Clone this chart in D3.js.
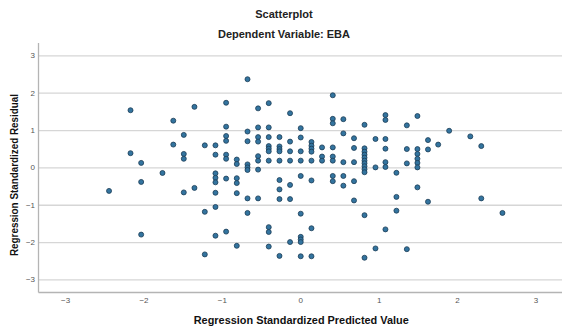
<!DOCTYPE html>
<html>
<head>
<meta charset="utf-8">
<script src="https://cdn.jsdelivr.net/npm/d3@7"></script>
<style>
  body { margin: 0; background: #fff; }
  text { font-family: "Liberation Sans", Arial, sans-serif; }
  .chartTitle { font-size: 11px; font-weight: bold; fill: #222; }
  .axisTitle { font-size: 11px; font-weight: bold; fill: #111; }
  .tickLabel text { font-size: 8px; fill: #555; }
  .grid line { stroke: #d6d6d6; stroke-width: 1.3; }
  .axisLine { stroke: #b4b4b4; stroke-width: 1.3; }
  .dot { fill: #33749f; stroke: #1c3c55; stroke-width: 0.8; }
</style>
</head>
<body>
<div id="scatter"></div>
<script>
// regression standardized predicted value (x) for each case
var predicted = [
  -2.44,
  -2.166, -2.166,
  -2.03, -2.03, -2.03,
  -1.758,
  -1.62, -1.62,
  -1.486, -1.486, -1.486, -1.486,
  -1.35, -1.35,
  -1.218, -1.218, -1.218,
  -1.082, -1.082, -1.082, -1.082, -1.082, -1.082, -1.082, -1.082,
  -0.946, -0.946, -0.946, -0.946, -0.946, -0.946, -0.946, -0.946,
  -0.81, -0.81, -0.81, -0.81, -0.81, -0.81,
  -0.673, -0.673, -0.673, -0.673, -0.673, -0.673, -0.673, -0.673,
  -0.538, -0.538, -0.538, -0.538, -0.538, -0.538, -0.538, -0.538,
  -0.402, -0.402, -0.402, -0.402, -0.402, -0.402, -0.402, -0.402, -0.402, -0.402,
  -0.265, -0.265, -0.265, -0.265, -0.265, -0.265, -0.265, -0.265, -0.265,
  -0.13, -0.13, -0.13, -0.13, -0.13, -0.13, -0.13,
  0.006, 0.006, 0.006, 0.006, 0.006, 0.006, 0.006, 0.006, 0.006, 0.006,
  0.143, 0.143, 0.143, 0.143, 0.143, 0.143, 0.143, 0.143,
  0.278, 0.278, 0.278,
  0.415, 0.415, 0.415, 0.415, 0.415, 0.415, 0.415, 0.415,
  0.55, 0.55, 0.55, 0.55, 0.55,
  0.686, 0.686, 0.686, 0.686, 0.686,
  0.82, 0.82, 0.82, 0.82, 0.82, 0.82, 0.82, 0.82, 0.82, 0.82, 0.82, 0.82,
  0.96, 0.96, 0.96,
  1.087, 1.087, 1.087, 1.087, 1.087, 1.087, 1.087,
  1.227, 1.227, 1.227,
  1.36, 1.36, 1.36, 1.36,
  1.495, 1.495, 1.495, 1.495, 1.495, 1.495, 1.495,
  1.63, 1.63, 1.63,
  1.76,
  1.90,
  2.17,
  2.31, 2.31,
  2.58
];

// regression standardized residual (y), same order as predicted
var residual = [
  -0.63,
  1.53, 0.38,
  0.12, -0.39, -1.80,
  -0.15,
  1.25, 0.61,
  0.87, 0.36, 0.23, -0.67,
  1.62, -0.55,
  0.59, -1.19, -2.33,
  0.59, 0.34, -0.16, -0.28, -0.40, -0.68, -1.06, -1.83,
  1.73, 1.09, 0.84, 0.71, 0.34, 0.23, -0.30, -1.72,
  0.21, 0.09, -0.29, -0.42, -0.69, -2.10,
  2.36, 0.96, 0.70, 0.08, 0.0, -0.07, -0.83, -1.22,
  1.58, 1.07, 0.81, 0.69, 0.30, 0.18, -0.06, -0.83,
  1.72, 1.07, 0.81, 0.57, 0.50, 0.43, 0.18, -1.60, -1.73, -2.12,
  0.81, 0.56, 0.49, 0.43, 0.18, -0.34, -0.59, -0.85, -2.37,
  1.45, 0.69, 0.43, 0.18, -0.47, -0.85, -2.0,
  1.05, 0.80, 0.43, 0.18, -0.23, -1.24, -1.86, -1.93, -2.0, -2.38,
  0.68, 0.58, 0.50, 0.42, 0.18, -0.35, -1.63, -2.38,
  0.535, 0.29, 0.18,
  1.93, 1.30, 1.18, 0.535, 0.29, 0.18, -0.23, -0.37,
  1.29, 0.91, 0.14, -0.23, -0.49,
  0.78, 0.52, 0.14, -0.37, -0.885,
  1.14, 0.51, 0.42, 0.34, 0.26, 0.18, 0.11, 0.03, -0.05, -0.13, -1.28, -2.42,
  0.76, 0.0, -2.17,
  1.40, 1.27, 0.76, 0.50, 0.14, 0.01, -1.66,
  -0.145, -0.79, -1.16,
  1.125, 0.49, 0.107, -2.19,
  1.375, 0.49, 0.36, 0.23, 0.12, 0.0, -0.535,
  0.73, 0.48, -0.92,
  0.61,
  0.98,
  0.83,
  0.57, -0.83,
  -1.22
];

var xTicks = [-3, -2, -1, 0, 1, 2, 3];
var yTicks = [-3, -2, -1, 0, 1, 2, 3];

var chartTitle = "Scatterplot";
var chartSubtitle = "Dependent Variable: EBA";
var xTitle = "Regression Standardized Predicted Value";
var yTitle = "Regression Standardized Residual";

/**
 * Constructor for the residual scatterplot
 */
function ScatterChart(){
    var self = this;
    self.init();
};

/**
 * Sets up the svg and the scales
 */
ScatterChart.prototype.init = function(){
    var self = this;
    self.margin = {top: 43, right: 1, bottom: 38.5, left: 38.5};
    self.svgWidth = 563;
    self.svgHeight = 331;
    self.width = self.svgWidth - self.margin.left - self.margin.right;
    self.height = self.svgHeight - self.margin.top - self.margin.bottom;

    self.svg = d3.select("#scatter").append("svg")
        .attr("width", self.svgWidth)
        .attr("height", self.svgHeight);

    self.xScale = d3.scaleLinear().domain([-3.34, 3.34]).range([0, self.width]);
    self.yScale = d3.scaleLinear().domain([-3.35, 3.33]).range([self.height, 0]);

    self.plot = self.svg.append("g")
        .attr("transform", "translate(" + self.margin.left + "," + self.margin.top + ")");
};

/**
 * Draws gridlines, axes, titles and the dots
 */
ScatterChart.prototype.update = function(){
    var self = this;

    // horizontal gridlines with the y tick labels
    var yAxis = d3.axisLeft(self.yScale)
        .tickValues(yTicks)
        .tickSize(-self.width)
        .tickPadding(3.5)
        .tickFormat(d3.format("d"));
    self.plot.append("g")
        .attr("class", "grid tickLabel")
        .call(yAxis)
        .call(g => g.select(".domain").remove());

    var xAxis = d3.axisBottom(self.xScale)
        .tickValues(xTicks)
        .tickSize(0)
        .tickPadding(5)
        .tickFormat(d3.format("d"));
    self.plot.append("g")
        .attr("class", "tickLabel")
        .attr("transform", "translate(0," + self.height + ")")
        .call(xAxis)
        .call(g => g.select(".domain").remove());

    // axis lines on the left and bottom
    self.plot.append("line")
        .attr("class", "axisLine")
        .attr("x1", 0).attr("x2", 0)
        .attr("y1", 0).attr("y2", self.height);
    self.plot.append("line")
        .attr("class", "axisLine")
        .attr("x1", 0).attr("x2", self.width)
        .attr("y1", self.height).attr("y2", self.height);

    var points = predicted.map((p, i) => ({x: p, y: residual[i]}));

    self.plot.selectAll(".dot")
        .data(points)
        .enter()
        .append("circle")
        .attr("class", "dot")
        .attr("cx", (d) => self.xScale(d.x))
        .attr("cy", (d) => self.yScale(d.y))
        .attr("r", 2.5);

    // titles
    self.svg.append("text")
        .attr("class", "chartTitle")
        .attr("x", 284)
        .attr("y", 18)
        .attr("text-anchor", "middle")
        .text(chartTitle);
    self.svg.append("text")
        .attr("class", "chartTitle")
        .attr("x", 284)
        .attr("y", 38)
        .attr("text-anchor", "middle")
        .text(chartSubtitle);

    // SPSS squeezes the axis titles a little, so fix their lengths
    self.svg.append("text")
        .attr("class", "axisTitle")
        .attr("x", self.margin.left + self.xScale(0) + 1)
        .attr("y", 324)
        .attr("text-anchor", "middle")
        .attr("textLength", 215)
        .attr("lengthAdjust", "spacingAndGlyphs")
        .text(xTitle);

    self.svg.append("text")
        .attr("class", "axisTitle")
        .attr("transform", "translate(18,175) rotate(-90)")
        .attr("text-anchor", "middle")
        .attr("textLength", 162)
        .attr("lengthAdjust", "spacingAndGlyphs")
        .text(yTitle);
};

var chart = new ScatterChart();
chart.update();
</script>
</body>
</html>
